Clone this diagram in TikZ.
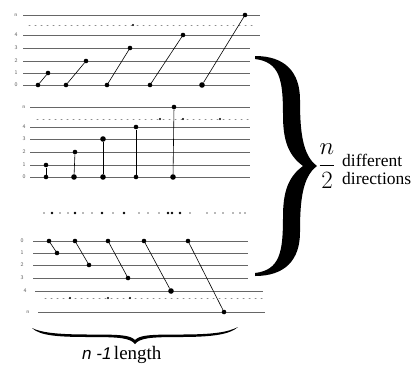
\documentclass[tikz,border=0pt]{standalone}
\usepackage{fontspec}
\setmainfont{Liberation Serif}
\newfontfamily\arialit{Liberation Sans}[ItalicFont=* Italic]
\usetikzlibrary{calc}
\begin{document}
\begin{tikzpicture}[x=1pt,y=-1pt,
  dotn/.style={circle,fill=black,inner sep=0pt,minimum size=4.6pt},
  bigdot/.style={dotn,minimum size=5.6pt},
  hline/.style={draw=black!60,line width=0.9pt},
  conn/.style={draw=black,line width=0.6pt},
  lvl/.style={font=\fontsize{5.5}{5.5}\selectfont\sffamily,text=black!65,inner sep=0pt},
  gdots/.style={draw=black!45,line width=1pt,dash pattern=on 1pt off 5pt,line cap=round},
  bdot/.style={circle,fill=black,inner sep=0pt,minimum size=2.2pt},
  gdot/.style={circle,fill=black!55,inner sep=0pt,minimum size=1.6pt}]
\useasboundingbox (0,0) rectangle (414,365);
\fill[white] (0,0) rectangle (414,365);

% ---------- panel 1 ----------
\foreach \y/\l/\xe in {15/n/260,35/4/260,48/3/250,61/2/250,73/1/250,85/0/250}{
  \draw[hline] (23,\y) -- (\xe,\y);
  \node[lvl] at (16,\y) {\l};
}
\draw[gdots] (29,25) -- (256,25);
\node[bdot] at (133,25) {};
\node[dotn] (a0) at (38,85) {};  \node[dotn] (a1) at (48,73) {};
\node[dotn] (b0) at (66,85) {};  \node[dotn] (b2) at (86,61) {};
\node[dotn] (c0) at (107,85) {}; \node[dotn] (c3) at (130,48) {};
\node[dotn] (d0) at (150,85) {}; \node[dotn] (d4) at (183,35) {};
\node[bigdot] (e0) at (202,85) {}; \node[dotn] (en) at (245,15) {};
\draw[conn] (a0) -- (a1);
\draw[conn] (b0) -- (b2);
\draw[conn] (c0) -- (c3);
\draw[conn] (d0) -- (d4);
\draw[conn] (e0) -- (en);

% ---------- panel 2 ----------
\foreach \y/\l in {107/n,127/4,139/3,152/2,165/1,177/0}{
  \draw[hline] (30,\y) -- (250,\y);
  \node[lvl] at (24,\y) {\l};
}
\draw[gdots] (37,119) -- (248,119);
\foreach \x in {160,183,220}{\node[bdot] at (\x,119) {};}
\node[dotn] (p0) at (46,177) {};  \node[dotn] (p1) at (46,165) {};
\node[bigdot] (q0) at (74,177) {};  \node[dotn] (q2) at (75,152) {};
\node[bigdot] (r0) at (103,177) {}; \node[bigdot] (r3) at (103,139) {};
\node[dotn] (s0) at (136,177) {}; \node[dotn] (s4) at (136,127) {};
\node[bigdot] (t0) at (173,177) {}; \node[dotn] (tn) at (174,107) {};
\draw[conn] (p0) -- (p1);
\draw[conn] (q0) -- (q2);
\draw[conn] (r0) -- (r3);
\draw[conn] (s0) -- (s4);
\draw[conn] (t0) -- (tn);

% ---------- dotted separator ----------
\foreach \x in {44,60,68,83,92,113,139,148,159,190,207,215,223,233,240,245}{\node[gdot] at (\x,213) {};}
\foreach \x in {52,75,102,124,168,172,180}{\node[bdot,minimum size=2.8pt] at (\x,213) {};}

% ---------- panel 3 ----------
\foreach \y/\l/\xs/\xe/\lx in {241/0/33/248/22,253/1/33/248/22,265/2/33/248/22,278/3/33/248/22,291/4/35/263/25,312/n/38/265/28}{
  \draw[hline] (\xs,\y) -- (\xe,\y);
  \node[lvl] at (\lx,\y) {\l};
}
\draw[gdots] (45,298) -- (262,298);
\foreach \x in {70,108,130}{\node[bdot] at (\x,298) {};}
\node[dotn] (u0) at (49,241) {};  \node[dotn] (u1) at (57,253) {};
\node[dotn] (v0) at (75,241) {};  \node[dotn] (v2) at (89,265) {};
\node[dotn] (w0) at (108,241) {}; \node[dotn] (w3) at (128,278) {};
\node[dotn] (z0) at (144,241) {}; \node[bigdot] (z4) at (171,291) {};
\node[dotn] (k0) at (188,241) {}; \node[dotn] (kn) at (224,312) {};
\draw[conn] (u0) -- (u1);
\draw[conn] (v0) -- (v2);
\draw[conn] (w0) -- (w3);
\draw[conn] (z0) -- (z4);
\draw[conn] (k0) -- (kn);

% ---------- right brace ----------
\fill[black] (255,56) .. controls (285,56) and (300,72) .. (300,100)
  .. controls (300,130) and (302,155) .. (317,166)
  .. controls (302,177) and (300,202) .. (300,232)
  .. controls (300,260) and (285,276) .. (255,276)
  -- (255,273)
  .. controls (280,270) and (283,252) .. (283,217)
  .. controls (283,192) and (288,177) .. (303,166)
  .. controls (288,155) and (283,140) .. (283,115)
  .. controls (283,80) and (280,62) .. (255,59) -- cycle;

\node (frac) at (327,166) {\fontsize{25}{25}\selectfont$\displaystyle\frac{n}{2}$};
\node[anchor=base west,inner sep=0pt,font=\fontsize{17.5}{17.5}\selectfont] (dif) at (342,166.5) {different};
\node[anchor=base west,inner sep=0pt,font=\fontsize{17.5}{17.5}\selectfont] (dir) at (342,184) {directions};

% ---------- bottom brace ----------
\fill[black] (32,328) .. controls (40,336) and (60,337) .. (90,337)
  .. controls (120,337) and (130,338) .. (135,344)
  .. controls (140,338) and (150,337) .. (180,337)
  .. controls (215,337) and (230,334) .. (238,327)
  .. controls (228,332) and (215,334.5) .. (180,334.5)
  .. controls (150,334.5) and (140,335) .. (135,340)
  .. controls (130,335) and (120,334.5) .. (90,334.5)
  .. controls (60,334.5) and (42,333) .. (32,328) -- cycle;

\node[anchor=base west,inner sep=0pt] (len) at (82,359)
  {{\arialit\itshape\fontsize{17}{17}\selectfont n -1} {\fontsize{19}{19}\selectfont length}};
\end{tikzpicture}
\end{document}
